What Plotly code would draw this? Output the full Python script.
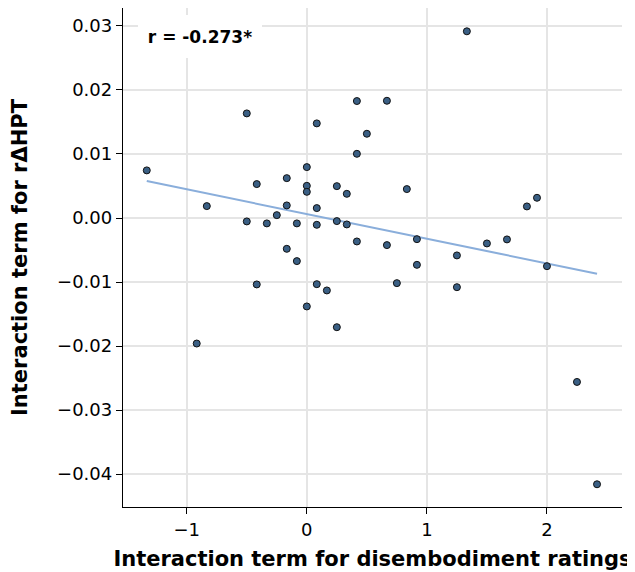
import numpy as np
import plotly.graph_objects as go

# Interaction term for disembodiment ratings (x) and for rΔHPT (y)
x_vals = [-1.333, -0.833, -0.5, -0.5, -0.417, -0.417, -0.333, -0.25, -0.167, -0.167,
          -0.167, -0.083, -0.083, 0.0, 0.0, 0.0, 0.0, 0.083, 0.083, 0.083,
          0.083, 0.167, 0.25, 0.25, 0.25, 0.333, 0.333, 0.417, 0.417, 0.417,
          0.5, 0.667, 0.667, 0.75, 0.833, 0.917, 0.917, 1.25, 1.25, 1.333,
          1.5, 1.667, 1.833, 1.917, 2.0, 2.25, 2.417, -0.917]
y_vals = [0.00744, 0.00186, 0.01634, -0.00053, 0.0053, -0.01037, -0.00084, 0.00045, 0.00623, 0.00197,
          -0.00481, -0.00084, -0.00673, 0.00795, 0.00503, 0.00409, -0.01381, 0.01478, 0.00155, -0.00106,
          -0.01033, -0.01131, 0.00498, -0.00048, -0.01705, 0.00378, -0.001, 0.01827, 0.01003, -0.00366,
          0.01316, 0.01831, -0.00423, -0.01017, 0.00452, -0.0033, -0.00731, -0.00584, -0.0108, 0.02916,
          -0.00397, -0.00334, 0.00181, 0.00316, -0.00752, -0.0256, -0.04158, -0.0196]

x_ticks = [-1, 0, 1, 2]
y_ticks = [0.03, 0.02, 0.01, 0.00, -0.01, -0.02, -0.03, -0.04]
r_label = "r = -0.273*"
x_title = "Interaction term for disembodiment ratings"
y_title = "Interaction term for r\u0394HPT"

xa = np.array(x_vals)
ya = np.array(y_vals)
slope, intercept = np.polyfit(xa, ya, 1)
x_line = np.array([xa.min(), xa.max()])
y_line = slope * x_line + intercept

FONT = "DejaVu Sans"

fig = go.Figure()
fig.add_trace(go.Scatter(
    x=x_line, y=y_line, mode="lines",
    line=dict(color="#8aaedb", width=2), hoverinfo="skip", showlegend=False))
fig.add_trace(go.Scatter(
    x=x_vals, y=y_vals, mode="markers",
    marker=dict(size=7, color="#3a5f84", line=dict(color="#111111", width=1)),
    showlegend=False))

fig.add_annotation(
    x=-0.889, y=0.02834, xref="x", yref="y",
    text="<b>" + r_label + "</b>", showarrow=False,
    font=dict(family=FONT, size=17, color="black"),
    bgcolor="white", borderwidth=0, borderpad=0, width=124, height=43,
    xanchor="center", yanchor="middle")

axis_common = dict(
    showline=True, linecolor="black", linewidth=1.3, mirror=False,
    ticks="outside", ticklen=6, tickwidth=1.2, tickcolor="black",
    showgrid=True, gridcolor="#e5e5e5", gridwidth=1.5, zeroline=False,
    tickfont=dict(family=FONT, size=18, color="black"),
    automargin=False,
)

# page body adds an 8px offset, so the figure is sized to fit the window
fig.update_layout(
    width=627, height=564,
    margin=dict(l=115, r=13, t=0, b=65),
    paper_bgcolor="white", plot_bgcolor="white",
    font=dict(family=FONT, color="black"),
    xaxis=dict(range=[-1.531, 2.625], tickvals=x_ticks, tickformat="d",
               title=dict(text="<b>" + x_title + "</b>", font=dict(family=FONT, size=21), standoff=12),
               **axis_common),
    yaxis=dict(range=[-0.04513, 0.0328], tickvals=y_ticks, tickformat=".2f",
               title=dict(text="<b>" + y_title + "</b>", font=dict(family=FONT, size=21), standoff=27),
               **axis_common),
)

fig.write_html("out.html")
